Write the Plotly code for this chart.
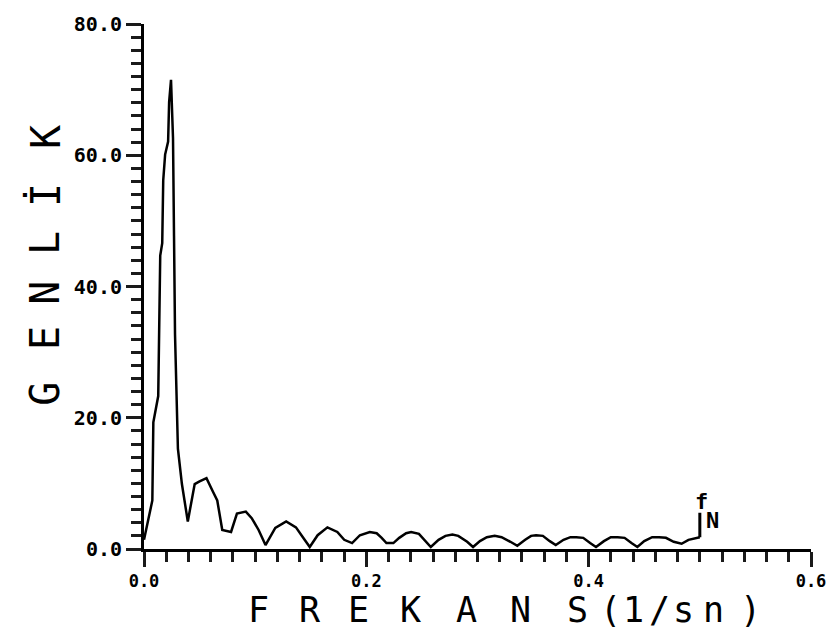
import plotly.graph_objects as go

# Amplitude spectrum: frequency (1/sn) and amplitude values
FREQ = [
    0.000, 0.003, 0.0075, 0.0084, 0.0128, 0.0146, 0.0164, 0.0173, 0.019, 0.0217,
    0.0226, 0.0243, 0.0252, 0.0261, 0.027, 0.0279, 0.0305, 0.0341, 0.0394, 0.0456,
    0.050, 0.0562, 0.0615, 0.0659, 0.0704, 0.0783, 0.0836, 0.0916, 0.0969, 0.1031,
    0.1093, 0.1181, 0.1279, 0.1367, 0.1429, 0.1491, 0.1562, 0.165, 0.1739, 0.1801,
    0.1872, 0.1942, 0.2031, 0.2093, 0.2138, 0.2181, 0.2243, 0.2296, 0.2358, 0.2403,
    0.2473, 0.2535, 0.258, 0.265, 0.2712, 0.2774, 0.2827, 0.2907, 0.296, 0.3022,
    0.3084, 0.3155, 0.3217, 0.3296, 0.3358, 0.3429, 0.3482, 0.3527, 0.3588, 0.365,
    0.3704, 0.3774, 0.3836, 0.3889, 0.3951, 0.4013, 0.4066, 0.4137, 0.4199, 0.4261,
    0.4323, 0.4385, 0.4438, 0.450, 0.4571, 0.4633, 0.4695, 0.4765, 0.4836, 0.4898,
    0.500,
]
AMPL = [
    1.4, 3.9, 7.4, 19.3, 23.3, 44.7, 46.6, 56.2, 60.1, 62.1,
    68.1, 71.5, 68.1, 62.6, 47.7, 32.7, 15.3, 9.9, 4.2, 9.9,
    10.3, 10.8, 8.9, 7.4, 2.9, 2.6, 5.4, 5.7, 4.7, 2.9,
    0.6, 3.2, 4.2, 3.3, 1.8, 0.3, 2.1, 3.3, 2.6, 1.4,
    0.9, 2.1, 2.6, 2.4, 1.7, 0.9, 0.9, 1.7, 2.4, 2.6,
    2.3, 1.1, 0.3, 1.4, 2.0, 2.2, 2.0, 1.1, 0.3, 1.2,
    1.8, 2.0, 1.8, 1.1, 0.5, 1.4, 2.0, 2.1, 2.0, 1.2,
    0.6, 1.4, 1.8, 1.8, 1.7, 0.9, 0.3, 1.2, 1.8, 1.8,
    1.7, 0.9, 0.3, 1.2, 1.8, 1.8, 1.7, 1.1, 0.8, 1.4,
    1.8,
]
F_NYQUIST = 0.5

X_RANGE = [0.0, 0.6]
X_MAJOR, X_MINOR = 0.2, 0.02
Y_RANGE = [0, 80]
Y_MAJOR, Y_MINOR = 20, 2

X_TITLE = ["F", "R", "E", "K", "A", "N", "S", "(", "1", "/", "s", "n", ")"]
Y_TITLE = ["G", "E", "N", "L", "İ", "K"]

# page geometry (pixels)
W, H = 838, 635
ML, MR, MT, MB = 144, 17, 13, 86
PW, PH = W - ML - MR, H - MT - MB

# letter centres of the spaced axis titles (pixels on the page)
X_TITLE_PX = [260, 312, 362, 415, 471, 526, 584, 617, 641, 667, 692, 722, 760]
X_TITLE_Y = 611
Y_TITLE_PY = [390, 333, 287, 236, 187, 128]
Y_TITLE_X = 44


def to_paper_x(px):
    return (px - ML) / PW


def to_paper_y(py):
    return (H - MB - py) / PH


INK = "#000000"
TICK_INK = "#1a1a1a"
TITLE_FONT = "DejaVu Sans Mono"
TICK_FONT = "DejaVu Sans Mono"

fig = go.Figure()
fig.add_trace(go.Scatter(
    x=FREQ, y=AMPL, mode="lines",
    line=dict(color=INK, width=2.5),
    hoverinfo="skip", showlegend=False,
))

fig.update_xaxes(
    range=X_RANGE, dtick=X_MAJOR, tickformat=".1f",
    showline=True, linecolor=INK, linewidth=3,
    ticks="outside", ticklen=15, tickwidth=3, tickcolor=TICK_INK,
    tickfont=dict(family=TICK_FONT, size=17, color=INK, weight="bold"),
    minor=dict(dtick=X_MINOR, ticks="outside", ticklen=10, tickcolor=TICK_INK),
)
fig.update_yaxes(
    range=Y_RANGE, dtick=Y_MAJOR, tickformat=".1f",
    showline=True, linecolor=INK, linewidth=3,
    ticks="outside", ticklen=15, tickwidth=3, tickcolor=TICK_INK,
    tickfont=dict(family=TICK_FONT, size=20, color=INK, weight="bold"),
    minor=dict(dtick=Y_MINOR, ticks="outside", ticklen=10, tickcolor=TICK_INK),
)

annotations = []
for ch, px in zip(X_TITLE, X_TITLE_PX):
    annotations.append(dict(
        text=ch, xref="paper", yref="paper",
        x=to_paper_x(px), y=to_paper_y(X_TITLE_Y),
        xanchor="center", yanchor="middle", showarrow=False,
        font=dict(family=TITLE_FONT, size=35, color=INK),
    ))
for ch, py in zip(Y_TITLE, Y_TITLE_PY):
    annotations.append(dict(
        text=ch, xref="paper", yref="paper",
        x=to_paper_x(Y_TITLE_X), y=to_paper_y(py),
        xanchor="center", yanchor="middle", showarrow=False, textangle=-90,
        font=dict(family=TITLE_FONT, size=40, color=INK),
    ))

# Nyquist frequency marker: label with a short stem rising from the curve end
annotations.append(dict(
    text="f", xref="x", yref="y", x=F_NYQUIST, y=AMPL[-1],
    xshift=2, yshift=36, showarrow=False,
    font=dict(family=TICK_FONT, size=22, color=INK, weight="bold"),
))
annotations.append(dict(
    text="N", xref="x", yref="y", x=F_NYQUIST, y=AMPL[-1],
    xshift=13, yshift=17, showarrow=False,
    font=dict(family=TICK_FONT, size=22, color=INK, weight="bold"),
))
annotations.append(dict(
    text="", xref="x", yref="y", x=F_NYQUIST, y=AMPL[-1],
    showarrow=True, arrowhead=0, arrowwidth=3, arrowcolor=INK,
    ax=0, ay=-26, standoff=0,
))

fig.update_layout(
    template="simple_white",
    width=W, height=H,
    margin=dict(l=ML, r=MR, t=MT, b=MB),
    annotations=annotations,
    showlegend=False,
)

fig.write_html("out.html")
